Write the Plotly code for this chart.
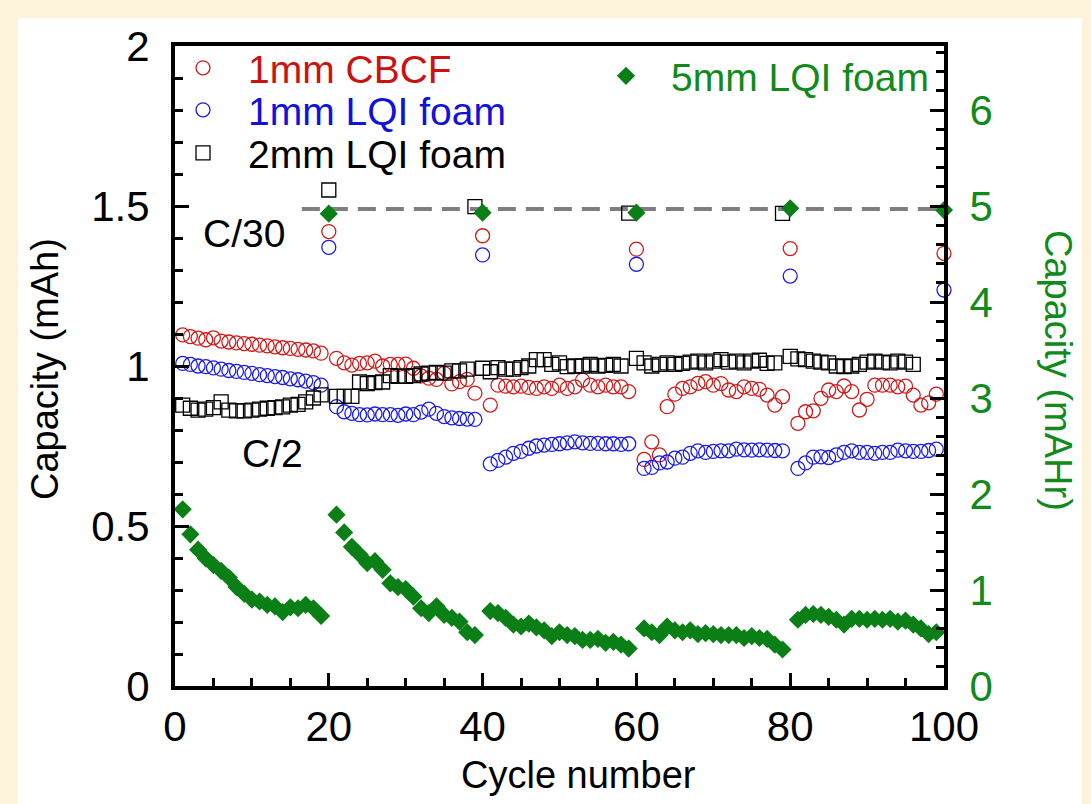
import plotly.graph_objects as go

# ---------------- data ----------------
cycles = list(range(1, 101))

red_cbcf = [
    1.097, 1.092, 1.087, 1.082, 1.088, 1.078, 1.075, 1.072, 1.07, 1.068, 1.065, 1.063, 1.06, 1.057, 1.055, 1.052, 1.05, 1.047, 1.04,
    1.42,
    1.024, 1.01, 1.003, 1.008, 1.01, 1.015, 1.0, 1.005, 1.005, 1.006, 0.993, 0.969, 0.962, 0.958, 0.977, 0.944, 0.951, 0.958, 0.915,
    1.407,
    0.878, 0.94, 0.937, 0.935, 0.937, 0.933, 0.93, 0.935, 0.93, 0.94, 0.93, 0.935, 0.956, 0.94, 0.935, 0.94, 0.935, 0.935, 0.92,
    1.365,
    0.708, 0.763, 0.722, 0.873, 0.912, 0.93, 0.935, 0.946, 0.951, 0.94, 0.945, 0.925, 0.92, 0.935, 0.93, 0.927, 0.909, 0.878, 0.904,
    1.367,
    0.821, 0.857, 0.86, 0.899, 0.925, 0.92, 0.9375, 0.92, 0.8625, 0.896, 0.94, 0.94, 0.94, 0.935, 0.937, 0.909, 0.878, 0.885, 0.912,
    1.352,
]

blue_lqi1 = [
    1.008, 1.005, 1.0, 0.998, 0.994, 0.99, 0.986, 0.983, 0.98, 0.977, 0.973, 0.97, 0.967, 0.964, 0.96, 0.957, 0.953, 0.948, 0.94,
    1.371,
    0.873, 0.857, 0.852, 0.848, 0.847, 0.85, 0.848, 0.848, 0.846, 0.85, 0.848, 0.856, 0.865, 0.852, 0.842, 0.838, 0.836, 0.834, 0.833,
    1.347,
    0.694, 0.705, 0.715, 0.727, 0.733, 0.743, 0.75, 0.753, 0.755, 0.757, 0.76, 0.763, 0.76, 0.758, 0.758, 0.757, 0.757, 0.755, 0.757,
    1.318,
    0.68, 0.683, 0.697, 0.70, 0.712, 0.715, 0.727, 0.735, 0.73, 0.733, 0.735, 0.735, 0.74, 0.738, 0.737, 0.738, 0.737, 0.736, 0.735,
    1.281,
    0.68, 0.697, 0.715, 0.716, 0.714, 0.722, 0.73, 0.735, 0.73, 0.73, 0.727, 0.73, 0.73, 0.737, 0.735, 0.733, 0.733, 0.736, 0.74,
    1.2375,
]

black_cycles = list(range(1, 97))
black_lqi2 = [
    0.878, 0.868, 0.862, 0.865, 0.87, 0.888, 0.862, 0.86, 0.86, 0.862, 0.865, 0.868, 0.87, 0.872, 0.878, 0.88, 0.888, 0.9, 0.91,
    1.55,
    0.905, 0.905, 0.905, 0.95, 0.945, 0.948, 0.95, 0.97, 0.968, 0.968, 0.97, 0.975, 0.978, 0.98, 0.978, 0.985, 0.985, 0.99,
    1.498,
    0.993, 0.982, 0.995, 0.99, 0.99, 0.995, 1.0, 1.02, 1.02, 1.005, 1.01, 0.998, 1.0, 1.0, 1.005, 1.0, 1.002, 1.005, 1.0,
    1.478,
    1.024, 1.01, 1.0, 1.005, 1.01, 1.005, 1.008, 1.012, 1.015, 1.01, 1.015, 1.02, 1.012, 1.015, 1.01, 1.015, 1.018, 1.008, 1.01,
    1.477,
    1.03, 1.022, 1.02, 1.015, 1.012, 1.01, 1.0, 0.998, 1.0, 1.005, 1.012, 1.015, 1.012, 1.01, 1.015, 1.012, 1.005,
]

green_lqi5 = [
    1.84, 1.58, 1.42, 1.33, 1.26, 1.2, 1.13, 1.03, 0.96, 0.9, 0.88, 0.845, 0.83, 0.77, 0.82, 0.81, 0.845, 0.81, 0.73,
    4.92,
    1.785, 1.6, 1.45, 1.37, 1.28, 1.3, 1.21, 1.07, 1.03, 1.01, 0.93, 0.81, 0.76, 0.83, 0.74, 0.71, 0.67, 0.56, 0.53,
    4.93,
    0.78, 0.76, 0.71, 0.64, 0.62, 0.65, 0.61, 0.58, 0.52, 0.56, 0.53, 0.52, 0.48, 0.48, 0.49, 0.45, 0.46, 0.43, 0.39,
    4.93,
    0.6, 0.56, 0.53, 0.62, 0.58, 0.56, 0.58, 0.54, 0.55, 0.54, 0.53, 0.53, 0.53, 0.5, 0.52, 0.5, 0.49, 0.43, 0.38,
    4.976,
    0.69, 0.74, 0.75, 0.74, 0.72, 0.69, 0.64, 0.7, 0.7, 0.69, 0.7, 0.69, 0.7, 0.67, 0.68, 0.64, 0.6, 0.54, 0.56,
    4.958,
]

c30_level = 4.97          # right-axis value of dashed C/30 line
c30_line_start = 16.5     # cycle where the dashed line starts

x_ticks = [0, 20, 40, 60, 80, 100]
y_ticks = [0, 0.5, 1, 1.5, 2]
y_tick_text = ["0", "0.5", "1", "1.5", "2"]
y2_ticks = [0, 1, 2, 3, 4, 5, 6]

# ---------------- style ----------------
FONT = "Arial, Liberation Sans, sans-serif"
RED = "#D01A1A"
BLUE = "#1C1CE8"
GREEN = "#0A7F16"
GREEN_TXT = "#118A1C"
CREAM = "#FCF3DA"

W, H = 1091, 804
L, R, T, B = 175, 147, 46, 118
PW, PH = W - L - R, H - T - B


def px(xp):
    return (xp - L) / PW


def py(yp):
    return (H - B - yp) / PH


fig = go.Figure()

fig.add_trace(go.Scatter(
    x=cycles, y=red_cbcf, mode="markers", name="<span style='color:#CC1111'>1mm CBCF</span>",
    marker=dict(symbol="circle-open", size=14, color=RED, line=dict(width=1.3, color=RED)),
    cliponaxis=False, legend="legend"))
fig.add_trace(go.Scatter(
    x=cycles, y=blue_lqi1, mode="markers", name="<span style='color:#1111DD'>1mm LQI foam</span>",
    marker=dict(symbol="circle-open", size=14, color=BLUE, line=dict(width=1.3, color=BLUE)),
    cliponaxis=False, legend="legend2"))
fig.add_trace(go.Scatter(
    x=black_cycles, y=black_lqi2, mode="markers", name="2mm LQI foam",
    marker=dict(symbol="square-open", size=14, color="black", line=dict(width=1.3, color="black")),
    cliponaxis=False, legend="legend3"))
fig.add_trace(go.Scatter(
    x=cycles, y=green_lqi5, mode="markers", name=f"<span style='color:{GREEN_TXT}'>5mm LQI foam</span>",
    marker=dict(symbol="diamond", size=14, color=GREEN, line=dict(width=0)),
    yaxis="y2", cliponaxis=False, legend="legend4"))

legend_common = dict(xanchor="left", yanchor="middle", bgcolor="rgba(0,0,0,0)",
                     borderwidth=0, itemwidth=80, font=dict(family=FONT, size=39, color="black"),
                     itemclick=False, itemdoubleclick=False)

fig.update_layout(
    width=W, height=H,
    margin=dict(l=L, r=R, t=T, b=B, pad=0),
    paper_bgcolor=CREAM,
    plot_bgcolor="white",
    font=dict(family=FONT, size=38, color="black"),
    showlegend=True,
    legend=dict(x=px(158), y=py(68), **legend_common),
    legend2=dict(x=px(158), y=py(110), **legend_common),
    legend3=dict(x=px(158), y=py(153), **legend_common),
    legend4=dict(x=px(581), y=py(76), **legend_common),
    xaxis=dict(
        range=[0, 100], tickvals=x_ticks, showgrid=False, zeroline=False,
        showline=True, linecolor="black", linewidth=4, mirror=True,
        ticks="inside", ticklen=13, tickwidth=3, tickcolor="black",
        minor=dict(dtick=5, ticks="inside", ticklen=8, tickwidth=3, tickcolor="black", showgrid=False),
        tickfont=dict(family=FONT, size=42, color="black"), ticklabelstandoff=1,
    ),
    yaxis=dict(
        range=[0, 2], tickvals=y_ticks, ticktext=y_tick_text, showgrid=False, zeroline=False,
        showline=True, linecolor="black", linewidth=4, mirror=False,
        ticks="inside", ticklen=14, tickwidth=3, tickcolor="black",
        minor=dict(dtick=0.1, ticks="inside", ticklen=8, tickwidth=3, tickcolor="black", showgrid=False),
        tickfont=dict(family=FONT, size=42, color="black"), ticklabelstandoff=13,
    ),
    yaxis2=dict(
        range=[0, 20 / 3], tickvals=y2_ticks, overlaying="y", side="right",
        showgrid=False, zeroline=False,
        showline=True, linecolor="black", linewidth=4,
        ticks="inside", ticklen=14, tickwidth=3, tickcolor="black",
        minor=dict(dtick=0.2, ticks="inside", ticklen=8, tickwidth=3, tickcolor="black", showgrid=False),
        tickfont=dict(family=FONT, size=42, color=GREEN_TXT), ticklabelstandoff=13,
    ),
)

# white panel behind everything
fig.add_shape(type="rect", xref="paper", yref="paper",
              x0=px(18), x1=px(1082), y0=py(810), y1=py(18),
              fillcolor="white", line=dict(width=0), layer="below")

# dashed C/30 reference line
fig.add_shape(type="line", xref="x", yref="y2",
              x0=c30_line_start, x1=100, y0=c30_level, y1=c30_level,
              line=dict(color="#7F7F7F", width=4, dash="18px,10px"), layer="below")

# texts
ann_common = dict(xref="paper", yref="paper", showarrow=False, xanchor="center", yanchor="middle")
fig.add_annotation(text="Capacity (mAh)", x=px(45), y=py(369), textangle=-90,
                   font=dict(family=FONT, size=38, color="black"), **ann_common)
fig.add_annotation(text="Capacity (mAHr)", x=px(1058), y=py(370), textangle=90,
                   font=dict(family=FONT, size=38, color=GREEN_TXT), **ann_common)
fig.add_annotation(text="Cycle number", x=px(578), y=py(775),
                   font=dict(family=FONT, size=38, color="black"), **ann_common)
fig.add_annotation(text="C/30", x=px(244), y=py(234),
                   font=dict(family=FONT, size=39, color="black"), **ann_common)
fig.add_annotation(text="C/2", x=px(272), y=py(453),
                   font=dict(family=FONT, size=39, color="black"), **ann_common)

fig.write_html("out.html", config={"displayModeBar": False},
               post_script="document.body.style.margin='0';document.body.style.overflow='hidden';")
